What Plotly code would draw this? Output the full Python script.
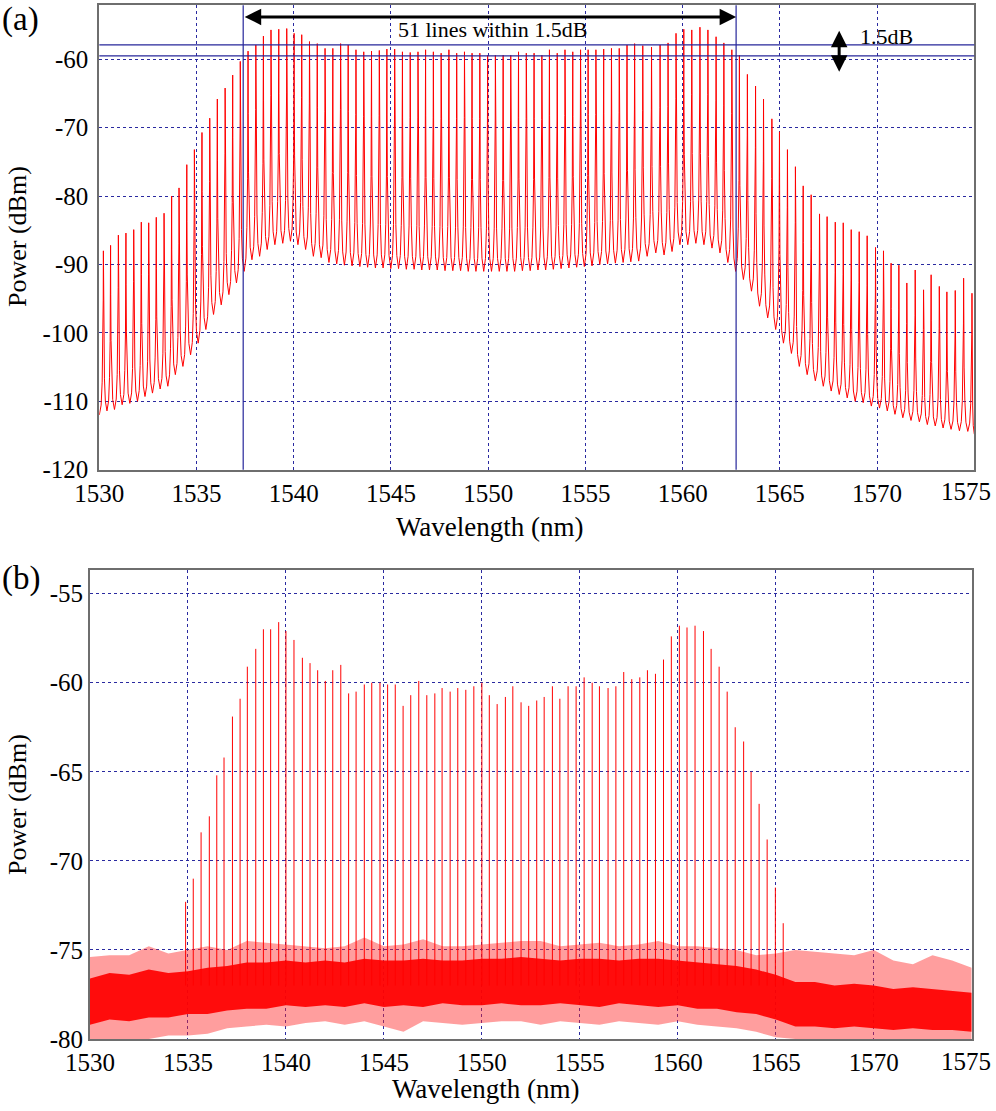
import plotly.graph_objects as go

# ---------------- Panel (a) data: comb lines (wavelength nm, peak dBm) ----------------
wl_a = [1530.21, 1530.58, 1530.98, 1531.37, 1531.77, 1532.16, 1532.54, 1532.93, 1533.33, 1533.72,
        1534.10, 1534.50, 1534.89, 1535.28, 1535.68, 1536.07, 1536.47, 1536.86, 1537.25, 1537.65,
        1538.05, 1538.44, 1538.83, 1539.23, 1539.64, 1540.02, 1540.41, 1540.81, 1541.21, 1541.61,
        1542.01, 1542.41, 1542.80, 1543.20, 1543.60, 1544.00, 1544.40, 1544.79, 1545.19, 1545.59,
        1545.99, 1546.39, 1546.78, 1547.18, 1547.58, 1547.98, 1548.38, 1548.78, 1549.17, 1549.57,
        1549.97, 1550.37, 1550.77, 1551.16, 1551.56, 1551.96, 1552.36, 1552.76, 1553.15, 1553.55,
        1553.95, 1554.35, 1554.75, 1555.14, 1555.54, 1555.94, 1556.34, 1556.74, 1557.14, 1557.53,
        1557.95, 1558.40, 1558.84, 1559.25, 1559.66, 1560.06, 1560.47, 1560.89, 1561.30, 1561.72,
        1562.12, 1562.53, 1562.92, 1563.33, 1563.75, 1564.16, 1564.59, 1564.98, 1565.39, 1565.80,
        1566.20, 1566.61, 1567.04, 1567.43, 1567.85, 1568.26, 1568.67, 1569.08, 1569.49, 1569.92,
        1570.33, 1570.72, 1571.12, 1571.53, 1571.96, 1572.39, 1572.78, 1573.20, 1573.59, 1574.02,
        1574.45, 1574.88]
pk_a = [-88.0, -87.2, -85.7, -85.4, -84.9, -83.8, -83.9, -83.1, -82.5, -80.0,
        -78.8, -75.4, -73.2, -70.7, -68.6, -65.8, -64.2, -62.3, -60.3, -58.8,
        -57.9, -56.6, -55.7, -55.6, -55.5, -56.2, -56.4, -57.4, -57.7, -58.4,
        -58.4, -57.7, -57.9, -58.6, -58.9, -58.8, -58.7, -58.5, -58.5, -58.9,
        -59.0, -58.9, -58.6, -58.9, -59.1, -58.6, -59.1, -58.9, -59.1, -59.1,
        -59.4, -59.4, -59.4, -59.4, -58.9, -59.1, -59.1, -59.4, -58.6, -59.1,
        -58.6, -58.9, -58.6, -58.6, -58.6, -58.5, -58.4, -58.4, -57.9, -57.7,
        -58.0, -58.2, -57.9, -57.6, -56.2, -55.6, -55.7, -55.3, -55.7, -56.7,
        -57.6, -58.6, -59.4, -62.2, -63.9, -65.8, -68.7, -70.6, -73.2, -75.7,
        -78.5, -79.8, -82.6, -83.0, -83.8, -83.9, -84.9, -85.2, -85.8, -87.5,
        -88.0, -89.8, -90.1, -92.7, -90.8, -93.7, -91.5, -93.2, -94.0, -93.8,
        -92.0, -94.2]
# floor (trough) levels: left edge, between successive lines, right edge
trough_a = [-112.0,
            -111.4, -111.2, -110.5, -110.3, -110.0, -109.3, -108.8, -108.2, -107.8, -106.1,
            -104.9, -103.2, -101.5, -99.5, -97.3, -95.9, -94.4, -92.7, -91.0, -89.3,
            -88.8, -87.8, -87.1, -86.9, -86.6, -87.1, -87.8, -88.8, -89.0, -89.7,
            -89.9, -90.1, -90.2, -90.3, -90.4, -90.5, -90.5, -90.6, -90.6, -90.7,
            -90.7, -90.8, -90.8, -90.8, -90.9, -90.9, -90.9, -91.0, -91.0, -91.0,
            -91.0, -91.0, -91.0, -91.0, -90.9, -90.9, -90.8, -90.8, -90.7, -90.6,
            -90.5, -90.4, -90.3, -90.2, -90.0, -89.9, -89.8, -89.7, -89.6, -89.5,
            -88.8, -88.3, -88.6, -88.1, -87.1, -87.1, -86.9, -87.1, -87.6, -88.3,
            -89.7, -91.0, -92.2, -93.9, -96.1, -97.8, -99.5, -101.5, -103.0, -104.9,
            -106.1, -107.0, -107.8, -108.5, -109.0, -109.5, -110.0, -110.2, -110.7, -111.0,
            -111.4, -111.9, -112.4, -112.8, -113.0, -113.4, -113.6, -113.9, -114.1, -114.3,
            -114.4,
            -114.8]

# ---------------- Panel (b) data ----------------
wl_b = [1534.88, 1535.27, 1535.67, 1536.09, 1536.47, 1536.84, 1537.27, 1537.66, 1538.03, 1538.46,
        1538.85, 1539.22, 1539.63, 1540.00, 1540.41, 1540.84, 1541.23, 1541.62, 1542.01, 1542.39,
        1542.80, 1543.20, 1543.58, 1544.00, 1544.38, 1544.80, 1545.19, 1545.58, 1545.98, 1546.37,
        1546.78, 1547.19, 1547.60, 1547.97, 1548.38, 1548.77, 1549.18, 1549.59, 1550.00, 1550.38,
        1550.78, 1551.20, 1551.58, 1552.00, 1552.39, 1552.80, 1553.18, 1553.60, 1553.98, 1554.40,
        1554.81, 1555.22, 1555.63, 1556.00, 1556.44, 1556.84, 1557.24, 1557.65, 1558.06, 1558.45,
        1558.86, 1559.27, 1559.67, 1560.08, 1560.47, 1560.88, 1561.31, 1561.70, 1562.11, 1562.52,
        1562.93, 1563.36, 1563.74, 1564.15, 1564.56, 1564.98, 1565.38]
pk_b = [-72.3, -71.0, -68.4, -67.5, -65.2, -64.2, -61.9, -60.9, -59.1, -58.1,
        -57.0, -57.0, -56.6, -57.1, -57.6, -58.6, -58.9, -59.3, -59.9, -59.3,
        -59.0, -60.6, -60.5, -60.1, -60.0, -60.0, -60.1, -60.1, -61.3, -60.7,
        -59.9, -60.7, -60.6, -60.3, -60.5, -60.3, -60.4, -60.2, -60.0, -60.7,
        -61.2, -60.8, -60.2, -61.1, -61.3, -61.0, -60.8, -60.2, -60.9, -60.2,
        -60.2, -59.7, -60.0, -60.2, -60.3, -60.2, -59.4, -59.8, -59.7, -59.3,
        -59.5, -58.7, -57.4, -56.8, -56.9, -56.8, -57.1, -58.1, -59.1, -60.5,
        -62.5, -63.3, -65.0, -66.8, -68.8, -71.5, -73.5]
noise_wl = [1530, 1531, 1532, 1533, 1534, 1535, 1536, 1537, 1538, 1539, 1540, 1541, 1542, 1543, 1544,
            1545, 1546, 1547, 1548, 1549, 1550, 1551, 1552, 1553, 1554, 1555, 1556, 1557, 1558, 1559,
            1560, 1561, 1562, 1563, 1564, 1565, 1566, 1567, 1568, 1569, 1570, 1571, 1572, 1573, 1574, 1575]
noise_max = [-75.4, -75.3, -75.3, -74.8, -75.2, -75.0, -74.8, -75.0, -74.5, -74.6, -74.7, -74.8, -74.9, -74.8, -74.3,
             -74.8, -74.7, -74.4, -74.8, -74.8, -74.7, -74.6, -74.5, -74.5, -74.8, -74.7, -74.6, -74.8, -74.7, -74.5,
             -74.8, -74.8, -74.9, -75.0, -75.3, -75.2, -75.0, -75.1, -75.2, -75.3, -75.0, -75.6, -75.8, -75.3, -75.6, -76.0]
core_hi = [-76.6, -76.3, -76.4, -76.1, -76.3, -76.2, -76.0, -75.9, -75.7, -75.7, -75.6, -75.7, -75.6, -75.7, -75.5,
           -75.6, -75.6, -75.5, -75.6, -75.6, -75.5, -75.5, -75.4, -75.5, -75.6, -75.5, -75.5, -75.6, -75.5, -75.5,
           -75.6, -75.7, -75.8, -75.9, -76.1, -76.4, -76.8, -76.8, -77.0, -76.9, -77.0, -77.2, -77.1, -77.2, -77.3, -77.4]
core_lo = [-79.2, -78.9, -79.0, -78.8, -78.8, -78.6, -78.6, -78.4, -78.3, -78.3, -78.1, -78.2, -78.1, -78.2, -78.0,
           -78.2, -78.1, -78.2, -78.0, -78.1, -78.1, -78.0, -78.1, -78.1, -78.0, -78.1, -78.2, -78.0, -78.1, -78.2,
           -78.1, -78.3, -78.3, -78.5, -78.6, -78.9, -79.3, -79.3, -79.4, -79.3, -79.4, -79.5, -79.4, -79.5, -79.5, -79.6]
noise_min = [-80.0, -80.0, -80.0, -80.0, -79.8, -79.8, -79.7, -79.4, -79.3, -79.2, -79.3, -79.1, -79.0, -79.2, -79.0,
             -79.3, -79.6, -79.0, -79.1, -79.2, -79.1, -79.0, -79.0, -79.2, -79.0, -79.1, -79.2, -79.0, -79.1, -79.2,
             -79.0, -79.2, -79.3, -79.4, -79.6, -79.9, -80.0, -80.0, -80.0, -80.0, -80.0, -80.0, -80.0, -80.0, -80.0, -80.0]

x_ticks = [1530, 1535, 1540, 1545, 1550, 1555, 1560, 1565, 1570, 1575]
y_ticks_a = [-120, -110, -100, -90, -80, -70, -60]
y_ticks_b = [-80, -75, -70, -65, -60, -55]

# ---------------- styling constants ----------------
W, H = 996, 1111
FONT = "Liberation Serif, Times New Roman, serif"
RED = "#ff0000"
NAVY = "#26269a"
GRID = "#2a2aa0"
AXC = "#6e6e6e"
TICK_SIZE = 25
SKIRT_F = [0.55, 0.30, 0.12, 0.04]   # position (fraction of half spacing) of skirt vertices
SKIRT_R = [0.06, 0.20, 0.42, 0.70]   # relative height of skirt vertices

# build the line-shaped trace for panel (a)
xa, ya = [], []
n = len(wl_a)
for i in range(n):
    lam, p = wl_a[i], pk_a[i]
    xl = 1530.0 if i == 0 else (wl_a[i - 1] + lam) / 2
    xr = 1575.0 if i == n - 1 else (lam + wl_a[i + 1]) / 2
    tl, tr = trough_a[i], trough_a[i + 1]
    if i == 0:
        xa.append(xl); ya.append(tl)
    for f, r in zip(SKIRT_F, SKIRT_R):
        xa.append(lam - f * (lam - xl)); ya.append(tl + r * (p - tl))
    xa.append(lam); ya.append(p)
    for f, r in reversed(list(zip(SKIRT_F, SKIRT_R))):
        xa.append(lam + f * (xr - lam)); ya.append(tr + r * (p - tr))
    xa.append(xr); ya.append(tr)

fig = go.Figure()
fig.add_trace(go.Scatter(x=xa, y=ya, mode="lines", line=dict(color=RED, width=1),
                         xaxis="x", yaxis="y", hoverinfo="skip", showlegend=False))

# panel (b) noise floor bands
fig.add_trace(go.Scatter(x=noise_wl, y=noise_min, mode="lines", line=dict(width=0, color=RED),
                         xaxis="x2", yaxis="y2", hoverinfo="skip", showlegend=False))
fig.add_trace(go.Scatter(x=noise_wl, y=noise_max, mode="lines", line=dict(width=0, color=RED),
                         fill="tonexty", fillcolor="rgba(255,40,40,0.45)",
                         xaxis="x2", yaxis="y2", hoverinfo="skip", showlegend=False))
fig.add_trace(go.Scatter(x=noise_wl, y=core_lo, mode="lines", line=dict(width=0, color=RED),
                         xaxis="x2", yaxis="y2", hoverinfo="skip", showlegend=False))
fig.add_trace(go.Scatter(x=noise_wl, y=core_hi, mode="lines", line=dict(width=0, color=RED),
                         fill="tonexty", fillcolor="rgba(255,0,0,0.92)",
                         xaxis="x2", yaxis="y2", hoverinfo="skip", showlegend=False))
# panel (b) comb lines
xb, yb = [], []
for lam, p in zip(wl_b, pk_b):
    xb += [lam, lam, None]
    yb += [-77.0, p, None]
fig.add_trace(go.Scatter(x=xb, y=yb, mode="lines", line=dict(color=RED, width=1),
                         xaxis="x2", yaxis="y2", hoverinfo="skip", showlegend=False))

def px(x):
    return x / W

def py(y):
    return 1 - y / H

axis_common = dict(showline=True, mirror=True, linecolor=AXC, linewidth=2,
                   showgrid=True, gridcolor=GRID, gridwidth=1, griddash="dot",
                   zeroline=False, ticks="", tickfont=dict(family=FONT, size=TICK_SIZE, color="black"),
                   ticklabeloverflow="allow", automargin=False)

# last x label is placed inside the page edge (as in the original), the rest are axis tick labels
x_ticktext = [str(v) for v in x_ticks[:-1]] + [""]

fig.update_layout(
    width=W, height=H, margin=dict(l=0, r=0, t=0, b=0),
    paper_bgcolor="white", plot_bgcolor="white", showlegend=False,
    xaxis=dict(domain=[px(99.3), px(974.3)], range=[1530, 1575], tickvals=x_ticks,
               ticktext=x_ticktext, anchor="y", ticklabelstandoff=0, **axis_common),
    yaxis=dict(domain=[py(469.7), py(5.3)], range=[-120, -52.1], tickvals=y_ticks_a,
               ticktext=[str(v) for v in y_ticks_a],
               anchor="x", ticklabelstandoff=4, **axis_common),
    xaxis2=dict(domain=[px(90), px(971.7)], range=[1530, 1575], tickvals=x_ticks,
                ticktext=x_ticktext, anchor="y2", ticklabelstandoff=0, **axis_common),
    yaxis2=dict(domain=[py(1039), py(570.3)], range=[-80, -53.69], tickvals=y_ticks_b,
                ticktext=[str(v) for v in y_ticks_b],
                anchor="x2", ticklabelstandoff=0, **axis_common),
)

# markers in panel (a)
shapes = []
for xv in [1537.4, 1562.75]:
    shapes.append(dict(type="line", xref="x", yref="y domain", x0=xv, x1=xv, y0=0, y1=1,
                       line=dict(color=NAVY, width=1.2)))
for yv in [-57.9, -59.5]:
    shapes.append(dict(type="line", xref="x domain", yref="y", x0=0, x1=1, y0=yv, y1=yv,
                       line=dict(color=NAVY, width=1.2)))
fig.update_layout(shapes=shapes)

ann = []
# horizontal double arrow
ann.append(dict(x=1562.75, y=-53.8, ax=1537.4, ay=-53.8, xref="x", yref="y", axref="x", ayref="y",
                text="", showarrow=True, arrowhead=2, startarrowhead=2, arrowside="end+start",
                arrowwidth=3, arrowsize=1.1, startarrowsize=1.1, arrowcolor="black", standoff=0, startstandoff=0))
# vertical double arrow
ann.append(dict(x=1568.05, y=-61.8, ax=1568.05, ay=-55.6, xref="x", yref="y", axref="x", ayref="y",
                text="", showarrow=True, arrowhead=2, startarrowhead=2, arrowside="end+start",
                arrowwidth=3, arrowsize=1.1, startarrowsize=1.1, arrowcolor="black", standoff=0, startstandoff=0))
ann.append(dict(x=1550.2, y=-55.7, xref="x", yref="y", text="51 lines within 1.5dB", showarrow=False,
                font=dict(family=FONT, size=22, color="black"), xanchor="center", yanchor="middle"))
ann.append(dict(x=1570.5, y=-56.6, xref="x", yref="y", text="1.5dB", showarrow=False,
                font=dict(family=FONT, size=22, color="black"), xanchor="center", yanchor="middle"))
# end tick labels "1575" (kept inside the page like the original)
for (xr_px, yc) in [(993, 492), (993, 1061)]:
    ann.append(dict(x=px(xr_px), y=py(yc), xref="paper", yref="paper", text=str(x_ticks[-1]),
                    showarrow=False, font=dict(family=FONT, size=TICK_SIZE, color="black"),
                    xanchor="right", yanchor="middle"))
# panel labels
ann.append(dict(x=px(0), y=py(19), xref="paper", yref="paper", text="(a)", showarrow=False,
                font=dict(family=FONT, size=33, color="black"), xanchor="left", yanchor="middle"))
ann.append(dict(x=px(0), y=py(578), xref="paper", yref="paper", text="(b)", showarrow=False,
                font=dict(family=FONT, size=33, color="black"), xanchor="left", yanchor="middle"))
# axis titles
for (xc, yc) in [(490, 527), (486, 1089)]:
    ann.append(dict(x=px(xc), y=py(yc), xref="paper", yref="paper", text="Wavelength (nm)",
                    showarrow=False, font=dict(family=FONT, size=27, color="black"),
                    xanchor="center", yanchor="middle"))
for (xc, yc) in [(17, 237), (17, 805)]:
    ann.append(dict(x=px(xc), y=py(yc), xref="paper", yref="paper", text="Power (dBm)",
                    showarrow=False, textangle=-90, font=dict(family=FONT, size=26, color="black"),
                    xanchor="center", yanchor="middle"))
fig.update_layout(annotations=ann)

fig.write_html("out.html", post_script="document.body.style.margin='0px';",
               config={"displayModeBar": False})
